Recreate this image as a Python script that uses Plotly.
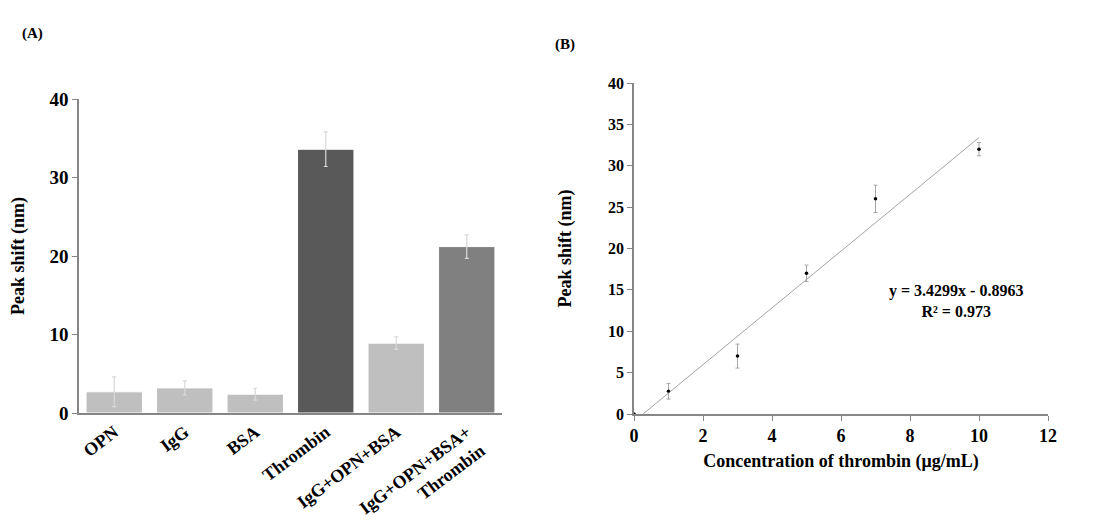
import plotly.graph_objects as go

# ---- Panel A data ----
categories = ["OPN", "IgG", "BSA", "Thrombin", "IgG+OPN+BSA", "IgG+OPN+BSA+<br>Thrombin"]
shift_a = [2.7, 3.2, 2.4, 33.6, 8.9, 21.2]
err_a = [1.9, 0.9, 0.75, 2.2, 0.8, 1.5]
bar_colors = ["#BFBFBF", "#BFBFBF", "#BFBFBF", "#595959", "#BFBFBF", "#808080"]

# ---- Panel B data ----
conc = [0, 1, 3, 5, 7, 10]
shift_b = [0, 2.75, 7.0, 17.0, 26.0, 32.0]
err_b = [0, 0.95, 1.45, 1.0, 1.65, 0.8]
slope = 3.4299
intercept = -0.8963
r2 = 0.973

OFF = 8  # page body margin
W, H = 1110 - 2 * OFF, 526 - 2 * OFF
FONT = "Liberation Serif"
AXC = "#868686"

def px(x):
    return (x - OFF) / W

def py(y):
    return 1 - (y - OFF) / H

fig = go.Figure()

fig.add_trace(go.Bar(
    x=categories, y=shift_a,
    marker=dict(color=bar_colors, line=dict(color="white", width=1)),
    error_y=dict(type="data", array=err_a, color="#D9D9D9", thickness=1.2, width=2),
    width=0.8, xaxis="x", yaxis="y", showlegend=False,
))

fig.add_trace(go.Scatter(
    x=conc, y=shift_b, mode="markers",
    marker=dict(color="black", size=3.5),
    error_y=dict(type="data", array=err_b, color="#A6A6A6", thickness=1, width=2),
    xaxis="x2", yaxis="y2", showlegend=False,
))

x0_fit = -intercept / slope
x1_fit = max(conc)
fig.add_trace(go.Scatter(
    x=[x0_fit, x1_fit], y=[slope * x0_fit + intercept, slope * x1_fit + intercept],
    mode="lines", line=dict(color="#8C8C8C", width=0.8),
    xaxis="x2", yaxis="y2", showlegend=False, hoverinfo="skip",
))

bold = dict(family=FONT, color="black", weight="bold")

fig.update_layout(
    width=W, height=H,
    margin=dict(l=0, r=0, t=0, b=0),
    paper_bgcolor="white", plot_bgcolor="white",
    xaxis=dict(
        domain=[px(79), px(502)], anchor="y", automargin=False,
        showline=True, linecolor=AXC, linewidth=1.5, ticks="",
        tickangle=-37, tickfont=dict(size=18, **bold),
        showgrid=False, zeroline=False,
    ),
    yaxis=dict(
        domain=[py(413), py(99)], anchor="x", automargin=False,
        range=[0, 40], dtick=10,
        showline=True, linecolor=AXC, linewidth=1.5,
        ticks="outside", ticklen=5, tickcolor=AXC,
        tickfont=dict(size=19, **bold),
        showgrid=False, zeroline=False,
        title=dict(text="Peak shift (nm)", font=dict(size=18, **bold), standoff=22),
    ),
    xaxis2=dict(
        domain=[px(634), px(1048)], anchor="y2", automargin=False,
        range=[0, 12], dtick=2,
        showline=True, linecolor=AXC, linewidth=1.5,
        ticks="outside", ticklen=5, tickcolor=AXC,
        tickfont=dict(size=18, **bold),
        showgrid=False, zeroline=False,
        title=dict(text="Concentration of thrombin (μg/mL)", font=dict(size=18, **bold), standoff=9),
    ),
    yaxis2=dict(
        domain=[py(414), py(83)], anchor="x2", automargin=False,
        range=[0, 40], dtick=5,
        showline=True, linecolor=AXC, linewidth=1.5,
        ticks="outside", ticklen=5, tickcolor=AXC,
        tickfont=dict(size=16, **bold),
        showgrid=False, zeroline=False,
        title=dict(text="Peak shift (nm)", font=dict(size=18, **bold), standoff=32),
    ),
    annotations=[
        dict(text="(A)", x=px(32), y=py(33), xref="paper", yref="paper",
             xanchor="center", yanchor="middle",
             showarrow=False, font=dict(size=15, **bold)),
        dict(text="(B)", x=px(565), y=py(45), xref="paper", yref="paper",
             xanchor="center", yanchor="middle",
             showarrow=False, font=dict(size=15, **bold)),
        dict(text=f"y = {slope}x - {abs(intercept)}<br>R² = {r2}",
             x=9.33, y=13.6, xref="x2", yref="y2", showarrow=False,
             align="center", font=dict(size=16, **bold)),
    ],
)

fig.write_html("out.html")
